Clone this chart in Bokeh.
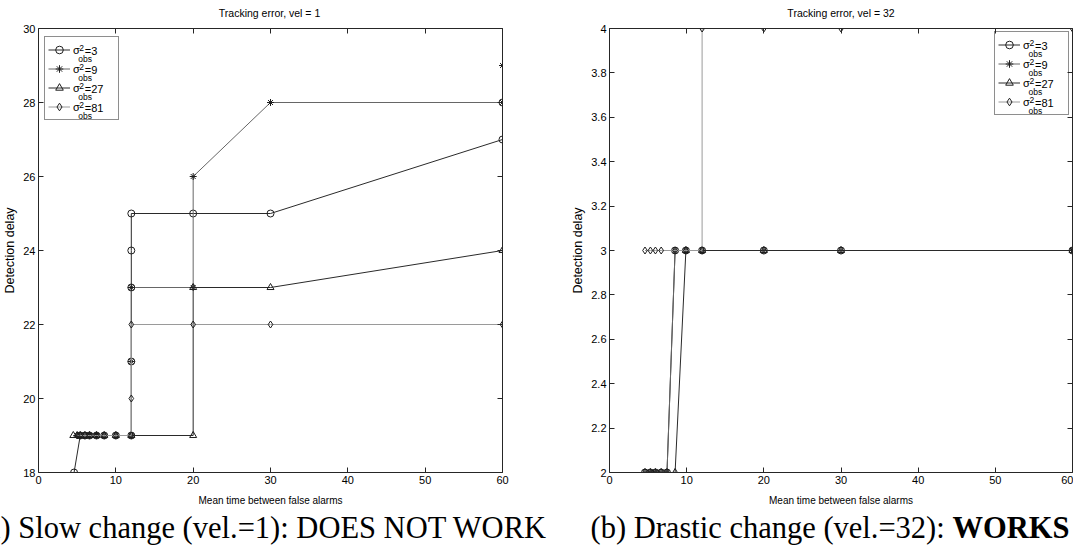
from bokeh.plotting import figure
from bokeh.models import (Range1d, FixedTicker, LinearAxis, Label, Legend, LegendItem,
                          CustomJSTickFormatter)
from bokeh.core.properties import value
from bokeh.layouts import row, column
from bokeh.embed import file_html
from bokeh.resources import INLINE

# ---------------- data: panel (a), vel = 1 ----------------
x_ticks = [0, 10, 20, 30, 40, 50, 60]
a_y_ticks = [18, 20, 22, 24, 26, 28, 30]
a_s3_x = [4.6, 5.4, 6.0, 6.6, 7.5, 8.5, 10, 12, 12, 12, 12, 12, 20, 30, 60, 60]
a_s3_y = [18, 19, 19, 19, 19, 19, 19, 19, 21, 23, 24, 25, 25, 25, 27, 28]
a_s9_x = [5.0, 5.4, 6.0, 6.6, 7.5, 8.5, 10, 12, 12, 12, 20, 20, 30, 60, 60]
a_s9_y = [19, 19, 19, 19, 19, 19, 19, 19, 21, 23, 23, 26, 28, 28, 29]
a_s27_x = [4.5, 5.0, 5.4, 6.0, 6.6, 7.5, 8.5, 10, 12, 20, 20, 30, 60]
a_s27_y = [19, 19, 19, 19, 19, 19, 19, 19, 19, 19, 23, 23, 24]
a_s81_x = [5.0, 5.4, 6.0, 6.6, 7.5, 8.5, 10, 12, 12, 12, 20, 30, 60]
a_s81_y = [19, 19, 19, 19, 19, 19, 19, 19, 20, 22, 22, 22, 22]

# ---------------- data: panel (b), vel = 32 ----------------
b_y_ticks = [2, 2.2, 2.4, 2.6, 2.8, 3, 3.2, 3.4, 3.6, 3.8, 4]
b_s3_x = [4.6, 5.3, 5.95, 6.7, 7.45, 8.5, 9.9, 12, 20, 30, 60]
b_s3_y = [2, 2, 2, 2, 2, 3, 3, 3, 3, 3, 3]
b_s9_x = [4.6, 5.3, 5.95, 6.7, 7.45, 8.5, 9.9, 12, 20, 30, 60]
b_s9_y = [2, 2, 2, 2, 2, 3, 3, 3, 3, 3, 3]
b_s27_x = [4.6, 5.3, 5.95, 6.7, 7.45, 8.5, 9.9, 12, 20, 30, 60]
b_s27_y = [2, 2, 2, 2, 2, 2, 3, 3, 3, 3, 3]
b_s81_x = [4.6, 5.3, 5.95, 6.7, 8.5, 9.9, 12, 12, 20, 30, 60]
b_s81_y = [3, 3, 3, 3, 3, 3, 3, 4, 4, 4, 4]

sigma_values = ["3", "9", "27", "81"]
markers = ["circle", "asterisk", "triangle", "diamond"]
line_colors = ["#2a2a2a", "#666666", "#2a2a2a", "#9a9a9a"]

title_a = "Tracking error, vel = 1"
title_b = "Tracking error, vel = 32"
caption_a = "(a) Slow change (vel.=1): DOES NOT WORK"
caption_b = "(b) Drastic change (vel.=32): "
caption_b_bold = "WORKS"
x_label = "Mean time between false alarms"
y_label = "Detection delay"

SANS = "Liberation Sans"
SERIF = "Liberation Serif"
W = 1073
H = 548
TH = 20             # title strip height
CH = 490            # chart row height
CAPH = H - TH - CH  # caption strip height
TOP = 8             # chart border above frame (frame top at window y = 28)
FRAME_H = 444
FRAME_BOTTOM = TOP + FRAME_H
AX = "#262626"


def style_axis(ax, ticks, labels=True):
    ax.ticker = FixedTicker(ticks=ticks)
    ax.major_tick_in = 5
    ax.major_tick_out = 0
    ax.minor_tick_in = 0
    ax.minor_tick_out = 0
    ax.axis_line_color = AX
    ax.major_tick_line_color = AX
    ax.axis_line_width = 1
    if labels:
        ax.major_label_text_font = SANS
        ax.major_label_text_font_size = "11px"
        ax.major_label_text_color = "black"
        ax.major_label_standoff = 3
        ax.axis_label_text_font = SANS
        ax.axis_label_text_font_style = "normal"
        ax.axis_label_text_color = "black"
    else:
        ax.major_label_text_font_size = "1px"
        ax.major_label_text_color = None
        ax.major_label_standoff = 0
        ax.axis_label = None


def strip(height):
    s = figure(width=W, height=height, x_range=Range1d(0, W), y_range=Range1d(height, 0),
               output_backend="svg", toolbar_location=None, x_axis_type=None,
               y_axis_type=None, min_border=0)
    s.min_border_left = s.min_border_right = s.min_border_top = s.min_border_bottom = 0
    s.outline_line_color = None
    s.xgrid.visible = False
    s.ygrid.visible = False
    return s


def build(width, bl, br, ylo, yhi, yticks, series, legend_win, yfmt=None):
    p = figure(width=width, height=CH, x_range=Range1d(0, 60), y_range=Range1d(ylo, yhi),
               output_backend="svg", toolbar_location=None,
               min_border_left=bl, min_border_right=br, min_border_top=TOP,
               min_border_bottom=CH - FRAME_BOTTOM, x_axis_label=x_label, y_axis_label=y_label)
    p.xgrid.visible = False
    p.ygrid.visible = False
    p.outline_line_color = None
    p.background_fill_color = "white"
    p.border_fill_color = "white"
    style_axis(p.xaxis[0], x_ticks)
    style_axis(p.yaxis[0], yticks)
    p.xaxis[0].axis_label_text_font_size = "10px"
    p.xaxis[0].axis_label_standoff = 8
    p.yaxis[0].axis_label_text_font_size = "12.5px"
    p.yaxis[0].axis_label_standoff = 3
    if yfmt is not None:
        p.yaxis[0].formatter = yfmt
    top = LinearAxis()
    style_axis(top, x_ticks, labels=False)
    p.add_layout(top, "above")
    right = LinearAxis()
    style_axis(right, yticks, labels=False)
    p.add_layout(right, "right")

    frame_left = bl
    frame_w = width - bl - br

    def to_x(px):   # figure pixel -> data x (annotation placement only)
        return (px - frame_left) / frame_w * 60.0

    def to_y(py):   # figure pixel -> data y
        return ylo + (FRAME_BOTTOM - py) / FRAME_H * (yhi - ylo)

    items = []
    for (xs, ys), mk, lc in zip(series, markers, line_colors):
        lr = p.line(xs, ys, line_color=lc, line_width=1)
        sr = p.scatter(xs, ys, marker=mk, size=7, fill_color=None,
                       line_color="#1e1e1e", line_width=1)
        items.append(LegendItem(label="σ", renderers=[lr, sr]))

    # legend box: window coords of its top-left corner -> figure coords
    lx, ly = legend_win[0], legend_win[1] - TH
    pad, gw, gh, stand, lw = 3, 22, 19, 3, 42
    n = len(items)
    lh = 2 * pad + n * gh
    leg = Legend(items=items, location=(lx - frame_left, FRAME_BOTTOM - ly - lh),
                 glyph_width=gw, glyph_height=gh, label_height=gh, label_width=lw,
                 label_standoff=stand, padding=pad, spacing=0, margin=0,
                 border_line_color="#1e1e1e", border_line_width=1,
                 background_fill_alpha=0,
                 label_text_font=SANS, label_text_font_size="11px",
                 label_text_color="black")
    p.add_layout(leg)
    sx = lx + pad + gw + stand  # pixel x of "σ"
    yc = [ly + pad + gh * i + gh / 2 for i in range(n)]
    p.text(x=[to_x(sx + 7)] * n, y=[to_y(c - 3.5) for c in yc], text=["2"] * n,
           text_font=value(SANS), text_font_size=value("8.5px"),
           text_baseline="alphabetic", text_color="black")
    p.text(x=[to_x(sx + 6)] * n, y=[to_y(c + 8) for c in yc], text=["obs"] * n,
           text_font=value(SANS), text_font_size=value("8.5px"),
           text_baseline="alphabetic", text_color="black")
    p.text(x=[to_x(sx + 12.5)] * n, y=[to_y(c) for c in yc], text=["=" + v for v in sigma_values],
           text_font=value(SANS), text_font_size=value("11px"),
           text_baseline="middle", text_color="black")
    return p


pa = build(540, 36, 38, 18, 30, a_y_ticks,
           [(a_s3_x, a_s3_y), (a_s9_x, a_s9_y), (a_s27_x, a_s27_y), (a_s81_x, a_s81_y)],
           (42, 38))
pb = build(533, 69, 1, 2, 4, b_y_ticks,
           [(b_s3_x, b_s3_y), (b_s9_x, b_s9_y), (b_s27_x, b_s27_y), (b_s81_x, b_s81_y)],
           (994 - 540, 33),
           yfmt=CustomJSTickFormatter(code="return String(Math.round(tick*10)/10);"))

# title strip above both charts
pt = strip(TH)
for txt, cx in [(title_a, 36 + 233), (title_b, 609 + 231.5)]:
    pt.add_layout(Label(x=cx, y=12.5, text=txt, text_font=SANS, text_font_size="10.5px",
                        text_align="center", text_baseline="middle", text_color="black"))

# caption strip below both charts
pc = strip(CAPH)
CAP_BASE = 536 - TH - CH - 9
CAP_SIZE = "30.5px"
pc.add_layout(Label(x=-23.7, y=CAP_BASE, text=caption_a, text_font=SERIF,
                    text_font_size=CAP_SIZE, text_baseline="alphabetic", text_color="black"))
pc.add_layout(Label(x=590, y=CAP_BASE, text=caption_b, text_font=SERIF,
                    text_font_size=CAP_SIZE, text_baseline="alphabetic", text_color="black"))
pc.add_layout(Label(x=590 + 362, y=CAP_BASE, text=caption_b_bold, text_font=SERIF,
                    text_font_size=CAP_SIZE, text_font_style="bold",
                    text_baseline="alphabetic", text_color="black"))

layout = column(pt, row(pa, pb), pc)
open("out.html", "w").write(file_html(layout, INLINE))
